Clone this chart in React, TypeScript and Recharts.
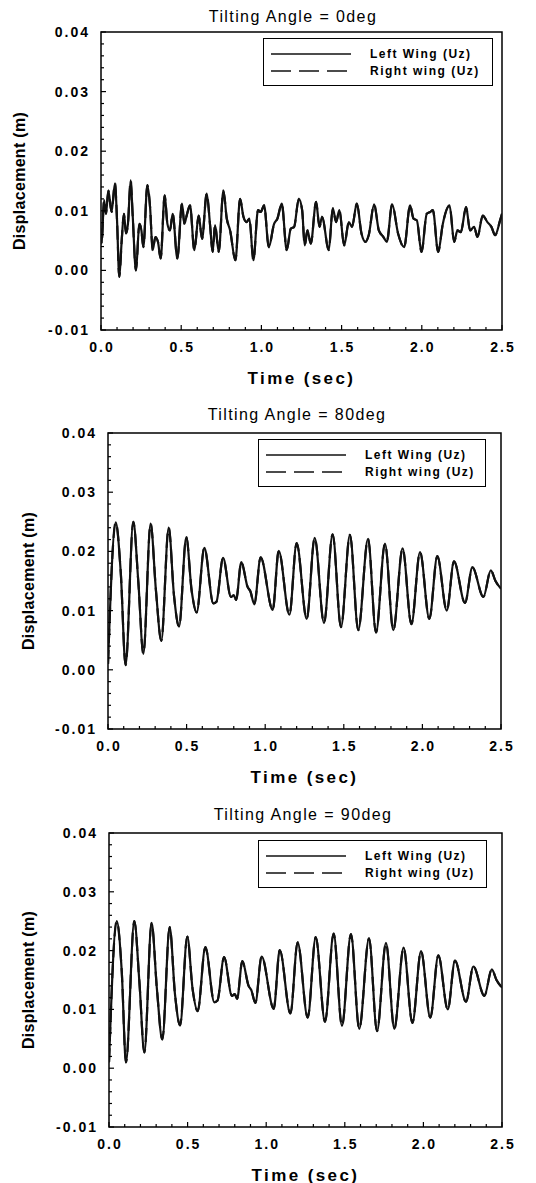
import React from 'react';
import { LineChart, Line, XAxis, YAxis, ReferenceArea, Legend } from 'recharts';

const FONT = '"Liberation Sans", Arial, Helvetica, sans-serif';

const titles = ['Tilting Angle = 0deg', 'Tilting Angle = 80deg', 'Tilting Angle = 90deg'];
const seriesNames = ['Left Wing (Uz)', 'Right wing (Uz)'];
const xTitle = 'Time (sec)';
const yTitle = 'Displacement (m)';

const xMajorTicks = [0, 0.5, 1.0, 1.5, 2.0, 2.5];
const xMinorTicks = [0.1, 0.2, 0.3, 0.4, 0.6, 0.7, 0.8, 0.9, 1.1, 1.2, 1.3, 1.4, 1.6, 1.7, 1.8, 1.9, 2.1, 2.2, 2.3, 2.4];
const yMajorTicks = [-0.01, 0.0, 0.01, 0.02, 0.03, 0.04];
const yMinorTicks = [
  -0.008, -0.006, -0.004, -0.002, 0.002, 0.004, 0.006, 0.008, 0.012, 0.014, 0.016, 0.018,
  0.022, 0.024, 0.026, 0.028, 0.032, 0.034, 0.036, 0.038,
];

// Tilting angle = 0 deg
const time0 = [
  0, 0.004, 0.019, 0.031, 0.046, 0.066, 0.087, 0.1, 0.114, 0.129,
  0.143, 0.156, 0.168, 0.185, 0.197, 0.218, 0.239, 0.252, 0.264, 0.289,
  0.306, 0.322, 0.339, 0.355, 0.372, 0.397, 0.414, 0.43, 0.447, 0.476,
  0.505, 0.52, 0.534, 0.555, 0.582, 0.609, 0.63, 0.659, 0.68, 0.696,
  0.711, 0.734, 0.763, 0.784, 0.805, 0.838, 0.867, 0.888, 0.908, 0.925,
  0.95, 0.979, 0.996, 1.017, 1.046, 1.079, 1.1, 1.127, 1.158, 1.183,
  1.204, 1.233, 1.254, 1.27, 1.287, 1.308, 1.341, 1.362, 1.378, 1.42,
  1.445, 1.466, 1.486, 1.516, 1.545, 1.565, 1.595, 1.624, 1.649, 1.669,
  1.703, 1.732, 1.761, 1.782, 1.815, 1.852, 1.89, 1.927, 1.948, 1.969,
  1.998, 2.031, 2.052, 2.069, 2.102, 2.131, 2.173, 2.202, 2.222, 2.243,
  2.276, 2.301, 2.326, 2.347, 2.38, 2.409, 2.434, 2.457, 2.488, 2.5,
];
const left0 = [
  0.0070, 0.0045, 0.0118, 0.0095, 0.0134, 0.0098, 0.0146, 0.0084, -0.0011, 0.0050,
  0.0095, 0.0062, 0.0078, 0.0151, 0.0095, 0.0000, 0.0078, 0.0067, 0.0039, 0.0143,
  0.0106, 0.0034, 0.0056, 0.0048, 0.0020, 0.0126, 0.0078, 0.0067, 0.0095, 0.0020,
  0.0112, 0.0078, 0.0092, 0.0109, 0.0034, 0.0092, 0.0053, 0.0129, 0.0076, 0.0031,
  0.0076, 0.0031, 0.0134, 0.0087, 0.0067, 0.0017, 0.0120, 0.0090, 0.0081, 0.0087,
  0.0017, 0.0101, 0.0098, 0.0109, 0.0039, 0.0078, 0.0087, 0.0112, 0.0034, 0.0070,
  0.0073, 0.0120, 0.0101, 0.0042, 0.0067, 0.0045, 0.0115, 0.0073, 0.0090, 0.0034,
  0.0104, 0.0081, 0.0101, 0.0042, 0.0081, 0.0073, 0.0112, 0.0062, 0.0048, 0.0059,
  0.0111, 0.0067, 0.0056, 0.0048, 0.0111, 0.0062, 0.0039, 0.0109, 0.0087, 0.0084,
  0.0031, 0.0095, 0.0098, 0.0101, 0.0031, 0.0078, 0.0109, 0.0048, 0.0067, 0.0064,
  0.0106, 0.0067, 0.0073, 0.0056, 0.0092, 0.0081, 0.0073, 0.0059, 0.0084, 0.0095,
];
// the right wing trace lies on top of the left one in the figure
const right0 = left0;

// Tilting angle = 80 deg
const time80 = [
  0, 0.049, 0.081, 0.112, 0.161, 0.193, 0.225, 0.271, 0.305, 0.339,
  0.386, 0.42, 0.452, 0.498, 0.532, 0.564, 0.613, 0.67, 0.69, 0.732,
  0.782, 0.8, 0.815, 0.848, 0.888, 0.905, 0.931, 0.971, 1.048, 1.086,
  1.154, 1.2, 1.264, 1.315, 1.374, 1.429, 1.482, 1.539, 1.592, 1.654,
  1.705, 1.762, 1.815, 1.874, 1.93, 1.985, 2.044, 2.095, 2.155, 2.201,
  2.271, 2.318, 2.388, 2.435, 2.465, 2.5,
];
const left80 = [
  0.0010, 0.0249, 0.0165, 0.0008, 0.0250, 0.0148, 0.0027, 0.0247, 0.0134, 0.0049,
  0.0240, 0.0125, 0.0073, 0.0224, 0.0134, 0.0097, 0.0206, 0.0112, 0.0115, 0.0189,
  0.0123, 0.0126, 0.0118, 0.0182, 0.0140, 0.0133, 0.0111, 0.0190, 0.0101, 0.0201,
  0.0093, 0.0214, 0.0086, 0.0223, 0.0079, 0.0229, 0.0072, 0.0228, 0.0067, 0.0221,
  0.0063, 0.0213, 0.0067, 0.0205, 0.0077, 0.0199, 0.0086, 0.0192, 0.0100, 0.0183,
  0.0113, 0.0173, 0.0123, 0.0168, 0.0150, 0.0137,
];
const right80 = left80;

// Tilting angle = 90 deg
const time90 = [
  0, 0.049, 0.081, 0.108, 0.161, 0.193, 0.225, 0.271, 0.305, 0.339,
  0.386, 0.42, 0.452, 0.498, 0.532, 0.564, 0.613, 0.67, 0.69, 0.732,
  0.782, 0.8, 0.815, 0.848, 0.888, 0.905, 0.931, 0.971, 1.048, 1.086,
  1.154, 1.2, 1.264, 1.315, 1.374, 1.429, 1.482, 1.539, 1.592, 1.654,
  1.705, 1.762, 1.815, 1.874, 1.93, 1.985, 2.044, 2.095, 2.155, 2.201,
  2.271, 2.318, 2.388, 2.435, 2.465, 2.5,
];
const left90 = [
  0.0010, 0.0250, 0.0165, 0.0010, 0.0250, 0.0148, 0.0027, 0.0247, 0.0134, 0.0049,
  0.0240, 0.0125, 0.0073, 0.0224, 0.0134, 0.0097, 0.0206, 0.0112, 0.0115, 0.0189,
  0.0123, 0.0126, 0.0118, 0.0182, 0.0140, 0.0133, 0.0111, 0.0190, 0.0101, 0.0201,
  0.0093, 0.0214, 0.0086, 0.0223, 0.0079, 0.0229, 0.0072, 0.0228, 0.0067, 0.0221,
  0.0063, 0.0213, 0.0067, 0.0205, 0.0077, 0.0199, 0.0086, 0.0192, 0.0100, 0.0183,
  0.0113, 0.0173, 0.0123, 0.0168, 0.0150, 0.0137,
];
const right90 = left90;

const toRows = (t: number[], l: number[], r: number[]) =>
  t.map((v, i) => ({ t: v, left: l[i], right: r[i] }));

const panels = [
  {
    title: titles[0], rows: toRows(time0, left0, right0),
    top: 0, height: 390, mTop: 32, mRight: 34, yWidth: 101,
    titleX: 293, titleY: 17, yLabelX: 19,
    legend: { left: 263, top: 38, width: 230 },
  },
  {
    title: titles[1], rows: toRows(time80, left80, right80),
    top: 400, height: 389, mTop: 33, mRight: 35, yWidth: 108,
    titleX: 297, titleY: 15, yLabelX: 28,
    legend: { left: 258, top: 39, width: 228 },
  },
  {
    title: titles[2], rows: toRows(time90, left90, right90),
    top: 800, height: 387, mTop: 33, mRight: 34, yWidth: 109,
    titleX: 303, titleY: 15, yLabelX: 28,
    legend: { left: 258, top: 40, width: 229 },
  },
];

const near = (v: number, list: number[]) => list.some((m) => Math.abs(m - v) < 1e-9);

const TICK_GAP_Y = 11;
const TICK_GAP_X = 12;

function YTick(props: any) {
  const { x, y, payload } = props;
  const v = payload.value;
  const major = near(v, yMajorTicks);
  const ax = x + TICK_GAP_Y;
  return (
    <g>
      <line x1={ax} x2={ax + (major ? 5 : 3)} y1={y} y2={y} stroke="#000" strokeWidth={1.2} />
      {major && (
        <text x={x} y={y} dy="0.36em" textAnchor="end" fontFamily={FONT} fontSize={14}
          fontWeight="bold" letterSpacing={2} fill="#000">
          {v.toFixed(2)}
        </text>
      )}
    </g>
  );
}

function XTick(props: any) {
  const { x, y, payload } = props;
  const v = payload.value;
  const major = near(v, xMajorTicks);
  const ay = y - TICK_GAP_X;
  return (
    <g>
      <line x1={x} x2={x} y1={ay} y2={ay - (major ? 5 : 3)} stroke="#000" strokeWidth={1.2} />
      {major && (
        <text x={x + 1} y={y} dy="0.72em" textAnchor="middle" fontFamily={FONT} fontSize={14}
          fontWeight="bold" letterSpacing={2} fill="#000">
          {v.toFixed(1)}
        </text>
      )}
    </g>
  );
}

function LegendBox(props: any) {
  const items = props.payload || [];
  return (
    <div style={{
      border: '1.5px solid #000', background: '#fff', boxSizing: 'border-box',
      width: props.boxWidth, height: 48, position: 'relative', fontFamily: FONT,
    }}>
      {items.map((it: any, i: number) => {
        const dashed = i === 1 || (it.payload && it.payload.strokeDasharray);
        return (
          <div key={i} style={{ position: 'absolute', left: 0, top: i === 0 ? 6 : 23, height: 18, width: '100%' }}>
            <svg width={84} height={18} style={{ position: 'absolute', left: 7, top: 0 }}>
              <line x1={0} x2={80} y1={9} y2={9} stroke="#111" strokeWidth={1.6}
                strokeDasharray={dashed ? '20 8' : undefined} />
            </svg>
            <span style={{
              position: 'absolute', left: 106, top: 0, lineHeight: '18px', fontSize: 12,
              fontWeight: 'bold', letterSpacing: 1.5, color: '#000', whiteSpace: 'nowrap',
            }}>
              {it.value}
            </span>
          </div>
        );
      })}
    </div>
  );
}

function Panel({ p }: { p: any }) {
  const yTicks = [...yMajorTicks, ...yMinorTicks].sort((a, b) => a - b);
  const xTicks = [...xMajorTicks, ...xMinorTicks].sort((a, b) => a - b);
  return (
    <div style={{ position: 'absolute', left: 0, top: p.top, width: 536, height: p.height }}>
      <div style={{
        position: 'absolute', left: p.titleX, top: p.titleY - 10, transform: 'translateX(-50%)',
        whiteSpace: 'nowrap', fontFamily: FONT, fontSize: 16, letterSpacing: 1.4, lineHeight: '20px',
        color: '#000', zIndex: 2,
      }}>
        {p.title}
      </div>
      <LineChart width={536} height={p.height} data={p.rows}
        margin={{ top: p.mTop, right: p.mRight, bottom: 0, left: 0 }}>
        <XAxis
          dataKey="t" type="number" domain={[0, 2.5]} ticks={xTicks} interval={0}
          axisLine={false} tickLine={false} tickSize={0} tickMargin={TICK_GAP_X}
          tick={<XTick />} height={60} allowDataOverflow
          label={{
            content: (lp: any) => {
              const vb = lp.viewBox || {};
              return (
                <text x={vb.x + vb.width / 2} y={vb.y + 48} dominantBaseline="central"
                  textAnchor="middle" fontFamily={FONT} fontSize={17} fontWeight="bold"
                  letterSpacing={2.4} fill="#000">
                  {xTitle}
                </text>
              );
            },
          }}
        />
        <YAxis
          type="number" domain={[-0.01, 0.04]} ticks={yTicks} interval={0}
          axisLine={false} tickLine={false} tickSize={0} tickMargin={TICK_GAP_Y}
          tick={<YTick />} width={p.yWidth} allowDataOverflow
          label={{
            content: (lp: any) => {
              const vb = lp.viewBox || {};
              const cx = p.yLabelX;
              const cy = vb.y + vb.height / 2;
              return (
                <text x={cx} y={cy} transform={`rotate(-90 ${cx} ${cy})`} dominantBaseline="central"
                  textAnchor="middle" fontFamily={FONT} fontSize={16} fontWeight="bold"
                  letterSpacing={0.3} fill="#000">
                  {yTitle}
                </text>
              );
            },
          }}
        />
        <ReferenceArea x1={0} x2={2.5} y1={-0.01} y2={0.04} fill="none" fillOpacity={0}
          stroke="#000" strokeWidth={1.5} ifOverflow="visible" />
        <Legend
          layout="vertical" align="center" verticalAlign="middle"
          wrapperStyle={{ left: p.legend.left, top: p.legend.top, width: p.legend.width }}
          content={(lp: any) => <LegendBox {...lp} boxWidth={p.legend.width} />}
        />
        <Line type="monotone" dataKey="left" name={seriesNames[0]} stroke="#111" strokeWidth={2.2}
          dot={false} activeDot={false} isAnimationActive={false} />
        <Line type="monotone" dataKey="right" name={seriesNames[1]} stroke="#111" strokeWidth={2.2}
          strokeDasharray="14 7" dot={false} activeDot={false} isAnimationActive={false} />
      </LineChart>
    </div>
  );
}

export default function App() {
  return (
    <div style={{
      position: 'absolute', left: 0, top: 0, width: 536, height: 1183, overflow: 'hidden',
      background: '#fff',
    }}>
      {panels.map((p, i) => <Panel key={i} p={p} />)}
    </div>
  );
}
